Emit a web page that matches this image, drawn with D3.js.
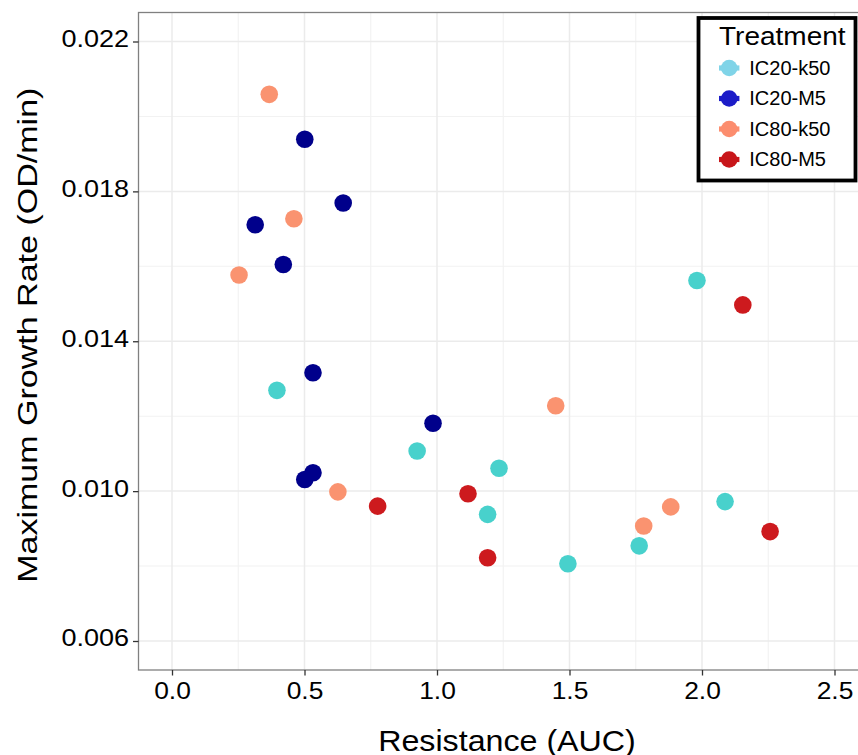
<!DOCTYPE html>
<html>
<head>
<meta charset="utf-8">
<script src="https://cdn.jsdelivr.net/npm/d3@7"></script>
<style>
  html, body { margin: 0; padding: 0; background: #ffffff; }
  svg { display: block; }
  text { font-family: "Liberation Sans", Arial, sans-serif; fill: #000; }
</style>
</head>
<body>
<script>
// ---------------- data ----------------
const treatments = ["IC20-k50", "IC20-M5", "IC80-k50", "IC80-M5"];

const ic20k50X = [0.396, 0.925, 1.234, 1.191, 1.494, 1.763, 2.087, 1.981];
const ic20k50Y = [0.01269, 0.01107, 0.01061, 0.00938, 0.00806, 0.00854, 0.00972, 0.01562];

const ic20m5X = [0.501, 0.646, 0.314, 0.420, 0.532, 0.985, 0.532, 0.501];
const ic20m5Y = [0.01939, 0.01769, 0.01711, 0.01605, 0.01316, 0.01181, 0.01049, 0.01031];

const ic80k50X = [0.367, 0.460, 0.253, 0.626, 1.448, 1.780, 1.882];
const ic80k50Y = [0.02059, 0.01727, 0.01577, 0.00998, 0.01228, 0.00907, 0.00958];

const ic80m5X = [0.776, 1.117, 1.191, 2.257, 2.154];
const ic80m5Y = [0.00960, 0.00993, 0.00822, 0.00892, 0.01497];

const xTicks = [0.0, 0.5, 1.0, 1.5, 2.0, 2.5];
const xMinor = [0.25, 0.75, 1.25, 1.75, 2.25];
const yTicks = [0.006, 0.010, 0.014, 0.018, 0.022];
const yMinor = [0.008, 0.012, 0.016, 0.020];

const pointColors = ["#48D1CC", "#00008B", "#FA9370", "#CD1A1E"];
const legendColors = ["#80D4E8", "#1C1CC8", "#FC8D6E", "#C8161A"];

const seriesX = [ic20k50X, ic20m5X, ic80k50X, ic80m5X];
const seriesY = [ic20k50Y, ic20m5Y, ic80k50Y, ic80m5Y];

// ---------------- layout ----------------
const W = 858, H = 755;
const panel = { left: 138.5, top: 12.5, right: 875.5, bottom: 670 };

const svg = d3.select("body").append("svg").attr("width", W).attr("height", H);

const x = d3.scaleLinear().domain([-0.12642, 2.65472]).range([panel.left, panel.right]);
const y = d3.scaleLinear().domain([0.005226, 0.022774]).range([panel.bottom, panel.top]);

function stretch(sel, k) {
  sel.each(function () {
    const l = this.getComputedTextLength();
    this.setAttribute("textLength", l * k);
    this.setAttribute("lengthAdjust", "spacingAndGlyphs");
  });
}

// panel background
svg.append("rect")
  .attr("x", panel.left).attr("y", panel.top)
  .attr("width", panel.right - panel.left).attr("height", panel.bottom - panel.top)
  .attr("fill", "#ffffff");

const grid = svg.append("g");
// minor gridlines
grid.selectAll(".xm").data(xMinor).enter().append("line")
  .attr("x1", d => x(d)).attr("x2", d => x(d))
  .attr("y1", panel.top).attr("y2", panel.bottom)
  .attr("stroke", "#F2F2F2").attr("stroke-width", 1.1);
grid.selectAll(".ym").data(yMinor).enter().append("line")
  .attr("y1", d => y(d)).attr("y2", d => y(d))
  .attr("x1", panel.left).attr("x2", panel.right)
  .attr("stroke", "#F2F2F2").attr("stroke-width", 1.1);
// major gridlines
grid.selectAll(".xM").data(xTicks).enter().append("line")
  .attr("x1", d => x(d)).attr("x2", d => x(d))
  .attr("y1", panel.top).attr("y2", panel.bottom)
  .attr("stroke", "#EBEBEB").attr("stroke-width", 1.5);
grid.selectAll(".yM").data(yTicks).enter().append("line")
  .attr("y1", d => y(d)).attr("y2", d => y(d))
  .attr("x1", panel.left).attr("x2", panel.right)
  .attr("stroke", "#EBEBEB").attr("stroke-width", 1.5);

// points
treatments.forEach((t, i) => {
  const pts = seriesX[i].map((v, j) => ({ x: v, y: seriesY[i][j] }));
  svg.append("g").selectAll("circle").data(pts).enter().append("circle")
    .attr("cx", d => x(d.x)).attr("cy", d => y(d.y))
    .attr("r", 8.8)
    .attr("fill", pointColors[i]);
});

// panel border
svg.append("rect")
  .attr("x", panel.left).attr("y", panel.top)
  .attr("width", panel.right - panel.left).attr("height", panel.bottom - panel.top)
  .attr("fill", "none").attr("stroke", "#808080").attr("stroke-width", 1.3);

// axes
const yAxis = svg.append("g")
  .attr("transform", `translate(${panel.left},0)`)
  .call(d3.axisLeft(y).tickValues(yTicks).tickFormat(d3.format(".3f")).tickSize(5.5).tickPadding(4));
yAxis.select(".domain").remove();
yAxis.selectAll(".tick line").attr("stroke", "#333333").attr("stroke-width", 1.3);
yAxis.selectAll(".tick text")
  .attr("font-size", 23.5).attr("font-family", null)
  .attr("dy", null).attr("y", 5)
  .attr("fill", "#000");
stretch(yAxis.selectAll(".tick text"), 1.15);

const xAxis = svg.append("g")
  .attr("transform", `translate(0,${panel.bottom})`)
  .call(d3.axisBottom(x).tickValues(xTicks).tickFormat(d3.format(".1f")).tickSize(5.5).tickPadding(4));
xAxis.select(".domain").remove();
xAxis.selectAll(".tick line").attr("stroke", "#333333").attr("stroke-width", 1.3);
xAxis.selectAll(".tick text")
  .attr("font-size", 24).attr("font-family", null)
  .attr("dy", null).attr("y", 29.3)
  .attr("fill", "#000");
stretch(xAxis.selectAll(".tick text"), 1.1);

// axis titles
const xt = svg.append("text")
  .attr("x", (panel.left + panel.right) / 2).attr("y", 751)
  .attr("text-anchor", "middle").attr("font-size", 29)
  .text("Resistance (AUC)");
stretch(xt, 1.11);

const yt = svg.append("text")
  .attr("transform", `translate(37,${(panel.top + panel.bottom) / 2 - 6}) rotate(-90)`)
  .attr("text-anchor", "middle").attr("font-size", 27)
  .text("Maximum Growth Rate (OD/min)");
stretch(yt, 1.26);

// legend
const lg = svg.append("g");
lg.append("rect")
  .attr("x", 698.5).attr("y", 18).attr("width", 157).attr("height", 162.5)
  .attr("fill", "#ffffff").attr("stroke", "#000000").attr("stroke-width", 3.8);
const lt = lg.append("text").attr("x", 719).attr("y", 45).attr("font-size", 25).text("Treatment");
stretch(lt, 1.12);

const keyY = d3.scalePoint().domain(treatments).range([68, 159.5]);
treatments.forEach((t, i) => {
  const cy = keyY(t);
  lg.append("rect")
    .attr("x", 729.2 - 10.2).attr("y", cy - 2.6).attr("width", 20.4).attr("height", 5.2)
    .attr("fill", legendColors[i]);
  lg.append("circle").attr("cx", 729.2).attr("cy", cy).attr("r", 8.3).attr("fill", legendColors[i]);
  lg.append("text").attr("x", 749.3).attr("y", cy + 6.5).attr("font-size", 20).text(t);
});
</script>
</body>
</html>
